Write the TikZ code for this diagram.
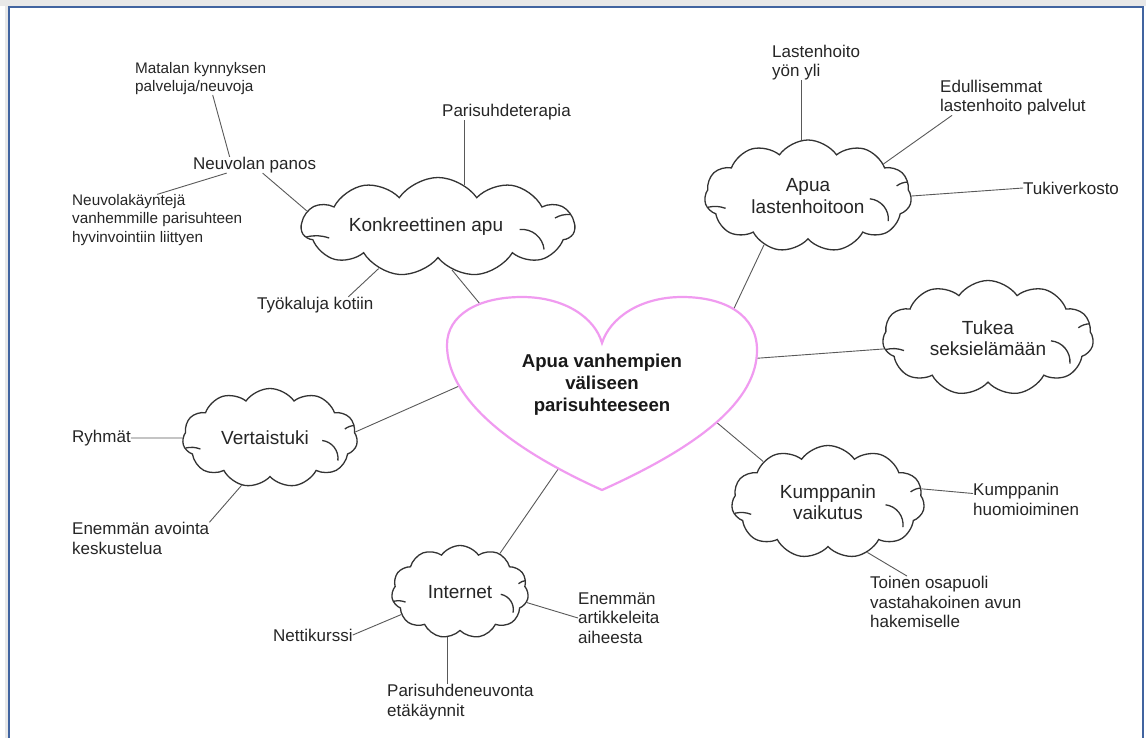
\documentclass[tikz,border=0pt]{standalone}
\usepackage{fontspec}
\setmainfont{Liberation Sans}
\usetikzlibrary{shapes.symbols, calc, backgrounds}

\definecolor{framecol}{RGB}{65,100,160}
\definecolor{heartpink}{RGB}{240,155,240}

\begin{document}
\begin{tikzpicture}[
    x=1pt, y=-1pt,
    bubble/.style={cloud, cloud puffs=11, cloud puff arc=110, cloud ignores aspect,
        draw=black!80, line width=1.3pt, fill=white, align=center, inner sep=0pt,
        text=black!85, font=\fontsize{19}{21.5}\selectfont},
    leaf/.style={align=left, inner sep=0pt, text=black!85, font=\fontsize{17}{19.5}\selectfont},
    subleaf/.style={leaf, font=\fontsize{15.3}{18.3}\selectfont},
    link/.style={draw=black!65, line width=0.9pt},
    cloudline/.style={draw=black!80, line width=1.3pt},
    ]

    % small inner strokes of a cloud: name, half width, half height
    \newcommand{\cloudmarks}[3]{
        \draw[cloudline] ($(#1.center)+(-0.97*#2, 0.20*#3)$) to[bend left=15] ($(#1.center)+(-0.80*#2, 0.22*#3)$);
        \draw[cloudline] ($(#1.center)+(0.60*#2, 0.05*#3)$) to[bend left=45] ($(#1.center)+(0.78*#2, 0.45*#3)$);
        \draw[cloudline] ($(#1.center)+(0.97*#2, -0.25*#3)$) to[bend right=15] ($(#1.center)+(0.86*#2, -0.18*#3)$);
    }

    \useasboundingbox (0,0) rectangle (1146,738);

    % ==========================================
    % Heart in the middle
    % ==========================================
    \draw[heartpink, line width=2.2pt, fill=white]
        (602,343) .. controls (595,318) and (565,297) .. (522,297)
        .. controls (478,297) and (447,315) .. (447,345)
        .. controls (447,395) and (502,445) .. (602,490)
        .. controls (702,445) and (757,400) .. (757,350)
        .. controls (757,315) and (725,297) .. (682,297)
        .. controls (640,297) and (610,318) .. (602,343) -- cycle;
    \node[font=\bfseries\fontsize{18.6}{22}\selectfont, align=center, text=black!90] (heart) at (602,385)
        {Apua vanhempien\\väliseen\\parisuhteeseen};

    % ports on the heart outline
    \coordinate (hp-konk) at (485,310);
    \coordinate (hp-lasten) at (729,319);
    \coordinate (hp-tukea) at (747,359);
    \coordinate (hp-kump) at (709,416);
    \coordinate (hp-inter) at (563,462);
    \coordinate (hp-vert) at (466,383);

    % ==========================================
    % Clouds
    % ==========================================
    \node[bubble, minimum width=273, minimum height=99] (konk) at (438,227) {Konkreettinen apu\hspace*{24pt}};
    \node[bubble, minimum width=207, minimum height=112] (lasten) at (808,196) {Apua\\lastenhoitoon};
    \node[bubble, minimum width=211, minimum height=115] (tukea) at (988,338) {Tukea\\seksielämään};
    \node[bubble, minimum width=193, minimum height=113] (kump) at (828,502) {Kumppanin\\vaikutus};
    \node[bubble, minimum width=137, minimum height=93] (inter) at (460,592) {Internet};
    \node[bubble, minimum width=175, minimum height=99] (vert) at (270,438) {Vertaistuki\hspace*{10pt}};

    \cloudmarks{konk}{136}{50}
    \cloudmarks{lasten}{103}{56}
    \cloudmarks{tukea}{105}{57}
    \cloudmarks{kump}{96}{56}
    \cloudmarks{inter}{68}{46}
    \cloudmarks{vert}{87}{50}

    % ==========================================
    % Leaf texts
    % ==========================================
    \node[leaf, anchor=west] (parter) at (442,112) {Parisuhdeterapia};
    \node[leaf, anchor=west] (neupan) at (193,165) {Neuvolan panos};
    \node[subleaf, anchor=west] (matala) at (135,78.5) {Matalan kynnyksen\\palveluja/neuvoja};
    \node[subleaf, anchor=west] (neuvk) at (72,220) {Neuvolakäyntejä\\vanhemmille parisuhteen\\hyvinvointiin liittyen};
    \node[leaf, anchor=west] (tyokalu) at (257,305) {Työkaluja kotiin};

    \node[leaf, anchor=west] (yonyli) at (772,62.5) {Lastenhoito\\yön yli};
    \node[leaf, anchor=west] (edul) at (940,97.5) {Edullisemmat\\lastenhoito palvelut};
    \node[leaf, anchor=west] (tukiv) at (1023,188) {Tukiverkosto};

    \node[leaf, anchor=west] (huomio) at (973,499.5) {Kumppanin\\huomioiminen};
    \node[leaf, anchor=west] (toinen) at (870,602) {Toinen osapuoli\\vastahakoinen avun\\hakemiselle};

    \node[leaf, anchor=west] (artik) at (578,618) {Enemmän\\artikkeleita\\aiheesta};
    \node[leaf, anchor=west] (netti) at (273,635) {Nettikurssi};
    \node[leaf, anchor=west] (neuvonta) at (387,702) {Parisuhdeneuvonta\\etäkäynnit};

    \node[leaf, anchor=west] (ryhmat) at (72,438) {Ryhmät};
    \node[leaf, anchor=west] (avoin) at (72,538.5) {Enemmän avointa\\keskustelua};

    % ==========================================
    % Page frame and connectors (behind everything)
    % ==========================================
    \begin{scope}[on background layer]
        \fill[black!9] (0,0) rectangle (1146,6);
        \fill[black!9] (5,0) rectangle (8,745);
        \draw[framecol, line width=2pt, fill=white] (9,7) rectangle (1143,745);

        % heart to clouds
        \draw[link] (konk.288) -- (hp-konk);
        \draw[link] (lasten.228) -- (hp-lasten);
        \draw[link] (tukea.186) -- (hp-tukea);
        \draw[link] (kump.148) -- (hp-kump);
        \draw[link] (inter.44) -- (hp-inter);
        \draw[link] (vert.4) -- (hp-vert);

        % Konkreettinen apu
        \draw[link] (konk.58) -- (konk.58 |- parter.south);
        \draw[link] ([xshift=8pt]neupan.south) -- (konk.173);
        \draw[link] ([xshift=12pt]matala.south) -- ([xshift=-25pt]neupan.north);
        \draw[link] (neuvk.north) -- ([xshift=-28pt]neupan.south);
        \draw[link] ([xshift=33pt]tyokalu.north) -- (konk.215);

        % Apua lastenhoitoon
        \draw[link] (lasten.97) -- (lasten.97 |- yonyli.south);
        \draw[link] ([xshift=12pt]edul.south west) -- (lasten.23);
        \draw[link] (tukiv.west) -- (lasten.east);

        % Kumppanin vaikutus
        \draw[link] ([yshift=6pt]huomio.west) -- (kump.8);
        \draw[link] ([xshift=37pt]toinen.north west) -- (kump.308);

        % Internet
        \draw[link] (artik.west) -- (inter.351);
        \draw[link] (netti.east) -- (inter.201);
        \draw[link] (inter.255) -- (inter.255 |- neuvonta.north);

        % Vertaistuki
        \draw[link] (ryhmat.east) -- (vert.west);
        \draw[link] (avoin.north east) -- (vert.239);
    \end{scope}

\end{tikzpicture}
\end{document}
